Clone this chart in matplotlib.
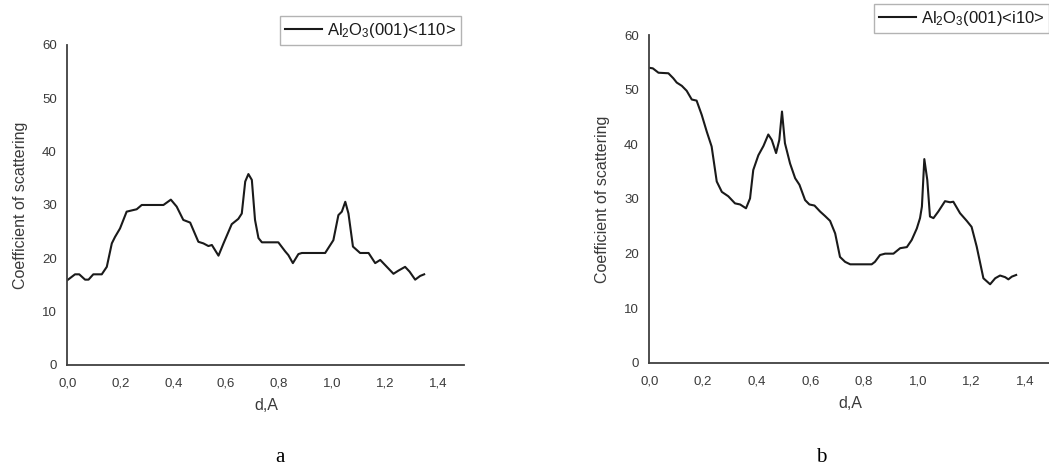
import matplotlib
matplotlib.use("Agg")
import matplotlib.pyplot as plt

plt.rcParams['font.family'] = ['Liberation Sans', 'DejaVu Sans']
plt.rcParams['mathtext.fontset'] = 'custom'
plt.rcParams['mathtext.rm'] = 'Liberation Sans'
plt.rcParams['mathtext.it'] = 'Liberation Sans:italic'
plt.rcParams['mathtext.bf'] = 'Liberation Sans:bold'

# Panel a: Al2O3(001)<110>
d_a = [0.0, 0.029, 0.045, 0.067, 0.08, 0.098, 0.13, 0.149, 0.168, 0.18, 0.199, 0.224,
       0.245, 0.262, 0.281, 0.363, 0.391, 0.413, 0.438, 0.464, 0.476, 0.495, 0.514,
       0.533, 0.546, 0.571, 0.59, 0.621, 0.646, 0.659, 0.672, 0.684, 0.697, 0.709,
       0.722, 0.735, 0.797, 0.823, 0.835, 0.852, 0.873, 0.886, 0.974, 1.005, 1.024,
       1.037, 1.05, 1.062, 1.079, 1.106, 1.138, 1.163, 1.182, 1.207, 1.232, 1.251,
       1.276, 1.293, 1.314, 1.333, 1.348]
c_a = [15.9, 17.0, 17.0, 16.0, 16.0, 17.0, 17.0, 18.4, 22.8, 24.0, 25.6, 28.75,
       29.0, 29.2, 30.0, 30.0, 31.0, 29.7, 27.2, 26.7, 25.3, 23.1, 22.8,
       22.3, 22.5, 20.5, 22.8, 26.4, 27.4, 28.4, 34.4, 35.8, 34.7, 27.2,
       23.8, 23.0, 23.0, 21.3, 20.6, 19.1, 20.8, 21.0, 21.0, 23.4, 28.1,
       28.75, 30.6, 28.4, 22.2, 21.0, 21.0, 19.1, 19.7, 18.4, 17.1, 17.7,
       18.4, 17.5, 16.0, 16.7, 17.0]

# Panel b: Al2O3(001)<i10>
d_b = [0.0, 0.013, 0.034, 0.071, 0.089, 0.102, 0.121, 0.139, 0.158, 0.176, 0.195,
       0.214, 0.232, 0.251, 0.27, 0.294, 0.319, 0.338, 0.36, 0.375, 0.387, 0.406,
       0.425, 0.443, 0.456, 0.472, 0.484, 0.494, 0.505, 0.524, 0.543, 0.559, 0.58,
       0.596, 0.615, 0.636, 0.654, 0.673, 0.692, 0.71, 0.729, 0.748, 0.828, 0.84,
       0.859, 0.878, 0.909, 0.934, 0.959, 0.977, 0.996, 1.008, 1.015, 1.024, 1.035,
       1.045, 1.058, 1.076, 1.101, 1.12, 1.132, 1.157, 1.182, 1.2, 1.219, 1.244,
       1.269, 1.288, 1.306, 1.325, 1.337, 1.35, 1.366]
c_b = [54.0, 53.9, 53.1, 53.0, 52.1, 51.3, 50.7, 49.8, 48.2, 48.0, 45.4,
       42.3, 39.6, 33.2, 31.3, 30.5, 29.2, 29.0, 28.3, 30.1, 35.3, 38.0,
       39.7, 41.8, 40.8, 38.4, 40.8, 46.0, 40.2, 36.5, 33.8, 32.6, 29.8,
       29.0, 28.8, 27.7, 26.9, 26.0, 23.7, 19.4, 18.5, 18.05, 18.05, 18.5,
       19.75, 20.0, 20.0, 21.0, 21.2, 22.5, 24.6, 26.5, 28.6, 37.3, 33.5,
       26.8, 26.5, 27.7, 29.6, 29.4, 29.5, 27.4, 26.0, 24.9, 21.3, 15.5,
       14.4, 15.5, 16.0, 15.7, 15.3, 15.8, 16.1]

x_ticks = [0.0, 0.2, 0.4, 0.6, 0.8, 1.0, 1.2, 1.4]
x_ticklabels = ['0,0', '0,2', '0,4', '0,6', '0,8', '1,0', '1,2', '1,4']
y_ticks = [0, 10, 20, 30, 40, 50, 60]

fig = plt.figure(figsize=(10.49, 4.68), dpi=100)

ax_a = fig.add_axes([0.0642, 0.2201, 0.3785, 0.6838])
ax_b = fig.add_axes([0.619, 0.2244, 0.384, 0.7008])

spine_col = '#404040'
text_col = '#3a3a3a'

for ax, d, c, lab, anchor, loc in [
        (ax_a, d_a, c_a, r'Al$_2$O$_3$(001)<110>', (461/1049, 1-15.5/468), 'upper right'),
        (ax_b, d_b, c_b, r'Al$_2$O$_3$(001)<i10>', (874.3/1049, 1-4/468), 'upper left')]:
    ax.plot(d, c, color='#1a1a1a', lw=1.5, solid_joinstyle='round', label=lab)
    ax.set_xlim(0, 1.5)
    ax.set_ylim(0, 60)
    ax.set_xticks(x_ticks)
    ax.set_xticklabels(x_ticklabels)
    ax.set_yticks(y_ticks)
    ax.tick_params(length=0, labelsize=9.5, colors=text_col)
    ax.tick_params(axis='x', pad=9)
    ax.tick_params(axis='y', pad=7.5)
    for s in ['top', 'right']:
        ax.spines[s].set_visible(False)
    for s in ['left', 'bottom']:
        ax.spines[s].set_color(spine_col)
        ax.spines[s].set_linewidth(1.3)
    ax.set_xlabel('d,A', fontsize=11.5, color=text_col, labelpad=6)
    ax.set_ylabel('Coefficient of scattering', fontsize=11.5, color=text_col, labelpad=10)
    leg = ax.legend(loc=loc, bbox_to_anchor=anchor, bbox_transform=fig.transFigure,
                    borderaxespad=0, fancybox=False, fontsize=12,
                    handlelength=2.2, handletextpad=0.3, borderpad=0.3)
    leg.get_frame().set_edgecolor('#a0a0a0')
    leg.get_frame().set_linewidth(1.0)
    for t in leg.get_texts():
        t.set_color('#1a1a1a')

fig.text(280/1049, 1-457/468, 'a', family='Liberation Serif', fontsize=15,
         ha='center', va='center', color='black')
fig.text(821.7/1049, 1-457/468, 'b', family='Liberation Serif', fontsize=15,
         ha='center', va='center', color='black')

fig.savefig('out.png', dpi=100)
